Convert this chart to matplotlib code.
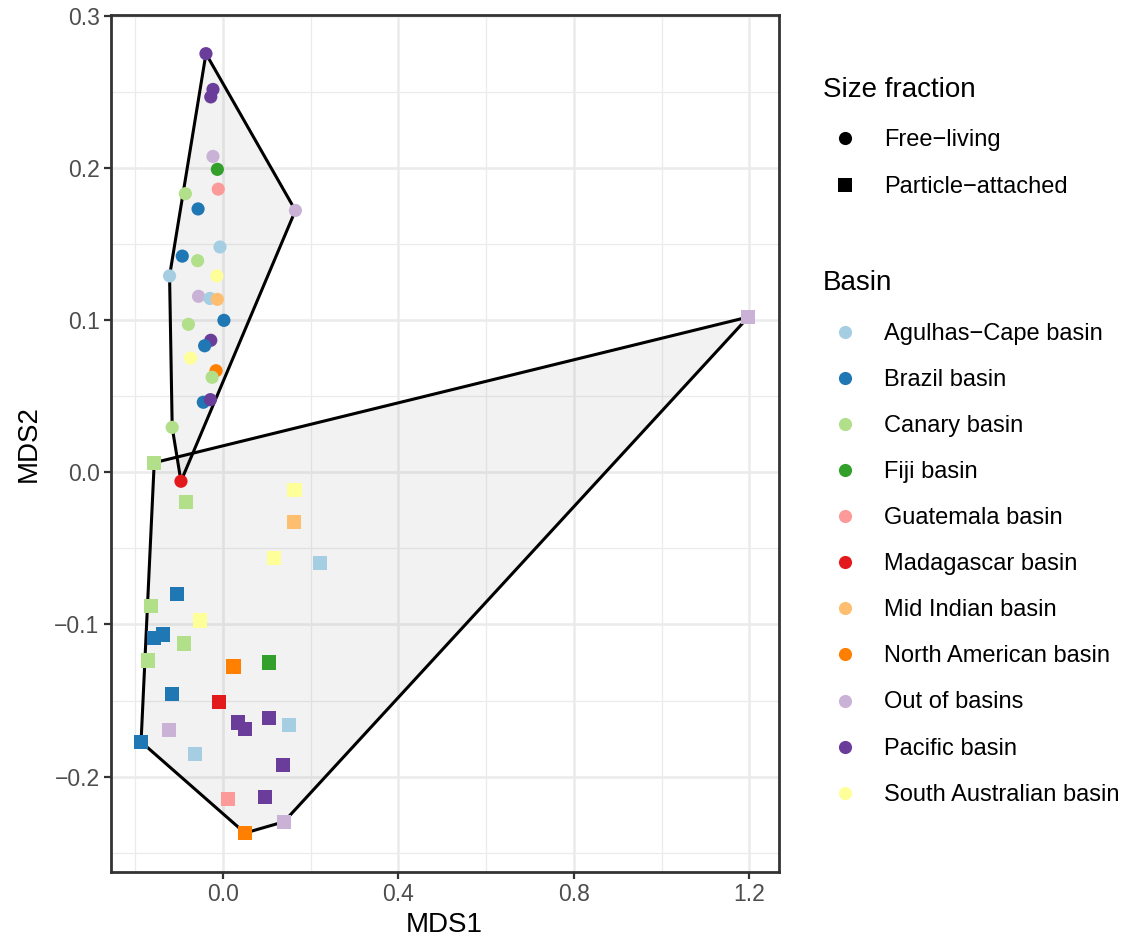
import matplotlib
matplotlib.use("Agg")
from matplotlib import pyplot as plt
import numpy

plt.rcParams['font.family'] = ['Liberation Sans', 'DejaVu Sans']

basins = ["Agulhas\u2212Cape basin", "Brazil basin", "Canary basin", "Fiji basin",
          "Guatemala basin", "Madagascar basin", "Mid Indian basin",
          "North American basin", "Out of basins", "Pacific basin",
          "South Australian basin"]
basin_colors = ["#A6CEE3", "#1F78B4", "#B2DF8A", "#33A02C", "#FB9A99", "#E31A1C",
                "#FDBF6F", "#FF7F00", "#CAB2D6", "#6A3D9A", "#FFFF99"]

fractions = ["Free\u2212living", "Particle\u2212attached"]

# free-living samples (basin index into basins)
fl_mds1 = [-0.039, -0.023, -0.028, -0.023, -0.013, -0.011, -0.086, -0.057, 0.165,
           -0.007, -0.093, -0.058, -0.122, -0.014, -0.056, -0.030, -0.013, 0.002,
           -0.079, -0.028, -0.042, -0.074, -0.016, -0.025, -0.045, -0.029, -0.116,
           -0.096]
fl_mds2 = [0.275, 0.2515, 0.2466, 0.2075, 0.199, 0.186, 0.183, 0.173, 0.172,
           0.148, 0.142, 0.139, 0.129, 0.129, 0.1156, 0.1142, 0.1136, 0.0998,
           0.0972, 0.0867, 0.0831, 0.075, 0.0667, 0.0624, 0.046, 0.0477, 0.0295,
           -0.0059]
fl_basin = [9, 9, 9, 8, 3, 4, 2, 1, 8,
            0, 1, 2, 0, 10, 8, 0, 6, 1,
            2, 9, 1, 10, 7, 2, 1, 9, 2,
            5]

# particle-attached samples
pa_mds1 = [1.198, -0.157, -0.084, 0.163, 0.162, 0.116, 0.221, -0.105, -0.164,
           -0.052, -0.137, -0.158, -0.089, -0.171, 0.024, 0.105, -0.116, -0.009,
           0.034, 0.050, 0.105, 0.150, -0.123, -0.187, -0.064, 0.137, 0.011,
           0.096, 0.050, 0.139]
pa_mds2 = [0.102, 0.0063, -0.0193, -0.0116, -0.0326, -0.0563, -0.0596, -0.0799,
           -0.0878, -0.0974, -0.1066, -0.1088, -0.1125, -0.1237, -0.1276, -0.125,
           -0.1456, -0.1508, -0.1644, -0.1685, -0.1613, -0.1659, -0.1692, -0.1771,
           -0.185, -0.1922, -0.2145, -0.2132, -0.237, -0.2296]
pa_basin = [8, 2, 2, 10, 6, 10, 0, 1, 2,
            10, 1, 1, 2, 2, 7, 3, 1, 5,
            9, 9, 9, 0, 8, 1, 0, 9, 4,
            9, 7, 8]


def convex_hull(xs, ys):
    pts = sorted(set(zip(xs, ys)))

    def cross(o, a, b):
        return (a[0] - o[0]) * (b[1] - o[1]) - (a[1] - o[1]) * (b[0] - o[0])

    lower = []
    for p in pts:
        while len(lower) >= 2 and cross(lower[-2], lower[-1], p) <= 0:
            lower.pop()
        lower.append(p)
    upper = []
    for p in reversed(pts):
        while len(upper) >= 2 and cross(upper[-2], upper[-1], p) <= 0:
            upper.pop()
        upper.append(p)
    hull = lower[:-1] + upper[:-1]
    return [p[0] for p in hull], [p[1] for p in hull]


figure = plt.figure(figsize=(11.26, 9.42), dpi=100)
W, H = 1126.0, 942.0
ax = figure.add_axes([110.7 / W, 1 - 872 / H, (778.7 - 110.7) / W, (872 - 14.7) / H])

# hulls
for xs, ys in [(fl_mds1, fl_mds2), (pa_mds1, pa_mds2)]:
    hx, hy = convex_hull(xs, ys)
    ax.fill(hx, hy, facecolor="#808080", alpha=0.1, edgecolor="none", zorder=2)
    ax.fill(hx, hy, facecolor="none", edgecolor="black", linewidth=2.2, zorder=3)

# points
ax.scatter(fl_mds1, fl_mds2, c=[basin_colors[b] for b in fl_basin], marker="o",
           s=90, linewidths=0, zorder=4)
ax.scatter(pa_mds1, pa_mds2, c=[basin_colors[b] for b in pa_basin], marker="s",
           s=105, linewidths=0, zorder=4)

# limits with 5% expansion like ggplot
all_x = fl_mds1 + pa_mds1
all_y = fl_mds2 + pa_mds2
rx = max(all_x) - min(all_x)
ry = max(all_y) - min(all_y)
ax.set_xlim(min(all_x) - 0.05 * rx, max(all_x) + 0.05 * rx)
ax.set_ylim(min(all_y) - 0.05 * ry, max(all_y) + 0.05 * ry)

ax.set_xticks([0.0, 0.4, 0.8, 1.2])
ax.set_xticks([-0.2, 0.2, 0.6, 1.0], minor=True)
ax.set_yticks([-0.2, -0.1, 0.0, 0.1, 0.2, 0.3])
ax.set_yticks([-0.25, -0.15, -0.05, 0.05, 0.15, 0.25], minor=True)
ax.set_xticklabels(["0.0", "0.4", "0.8", "1.2"])
ax.set_yticklabels(["\u22120.2", "\u22120.1", "0.0", "0.1", "0.2", "0.3"])

ax.grid(True, which="major", color="#ebebeb", linewidth=1.8, zorder=0)
ax.grid(True, which="minor", color="#ebebeb", linewidth=0.9, zorder=0)
ax.set_axisbelow(True)
ax.tick_params(which="major", length=5, width=1.6, color="#333333",
               labelsize=16.5, labelcolor="#4d4d4d", pad=3)
ax.tick_params(which="minor", length=0)
for spine in ax.spines.values():
    spine.set_color("#333333")
    spine.set_linewidth(2.0)

ax.set_xlabel("MDS1", fontsize=20, labelpad=4)
ax.set_ylabel("MDS2", fontsize=20, labelpad=9)

# legends drawn in pixel coordinates
lax = figure.add_axes([0, 0, 1, 1])
lax.set_xlim(0, W)
lax.set_ylim(H, 0)
lax.axis("off")

lax.text(823, 90, "Size fraction", fontsize=20, va="center", ha="left")
lax.scatter([845], [138], marker="o", s=90, c="black", linewidths=0)
lax.text(884, 140, fractions[0], fontsize=17, va="center", ha="left")
lax.scatter([845], [185], marker="s", s=105, c="black", linewidths=0)
lax.text(884, 187, fractions[1], fontsize=17, va="center", ha="left")

lax.text(823, 283, "Basin", fontsize=20, va="center", ha="left")
for i, (name, col) in enumerate(zip(basins, basin_colors)):
    y = 331.7 + 46.1 * i
    lax.scatter([845], [y], marker="o", s=90, c=col, linewidths=0)
    lax.text(884, y + 2, name, fontsize=17, va="center", ha="left")

figure.savefig("out.png", dpi=100)
